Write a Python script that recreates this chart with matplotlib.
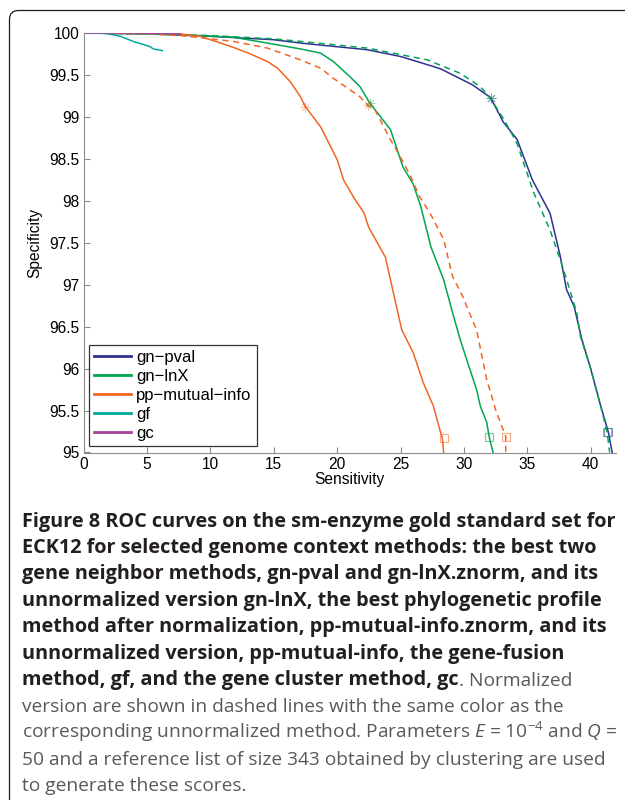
import matplotlib
matplotlib.use('Agg')
import matplotlib.pyplot as plt
from matplotlib.patches import FancyBboxPatch
from matplotlib.transforms import IdentityTransform

# ROC curves (x = sensitivity, y = specificity)
gn_pval_x = [0, 5, 10, 15, 17.1, 22.4, 25.0, 27.6, 28.2, 30.7, 32.1, 33.1, 34.2, 35.4, 36.8, 37.6, 38.1, 38.7, 39.3, 40.0, 40.8, 41.4, 41.7]
gn_pval_y = [100, 99.99, 99.96, 99.92, 99.88, 99.8, 99.72, 99.6, 99.57, 99.38, 99.23, 98.94, 98.73, 98.25, 97.85, 97.34, 96.94, 96.74, 96.35, 96.0, 95.55, 95.24, 95.0]

gn_znorm_x = [0, 5, 10, 15, 17.1, 22.4, 27.1, 29.7, 31.3, 32.1, 33.2, 34.2, 35.5, 36.8, 37.8, 38.9, 39.2, 40.0, 40.8, 41.3, 41.5]
gn_znorm_y = [100, 99.99, 99.97, 99.93, 99.9, 99.82, 99.68, 99.52, 99.36, 99.22, 98.96, 98.68, 98.1, 97.65, 97.21, 96.67, 96.38, 96.0, 95.55, 95.24, 95.0]

gn_lnx_x = [0, 5, 7.6, 11.8, 14.5, 17.1, 18.7, 19.7, 21.0, 21.8, 22.6, 24.2, 25.2, 26.0, 26.6, 27.4, 28.4, 29.1, 29.7, 30.3, 31.0, 31.3, 31.8, 32.0, 32.3]
gn_lnx_y = [100, 99.99, 99.98, 99.95, 99.88, 99.81, 99.76, 99.66, 99.48, 99.36, 99.16, 98.85, 98.4, 98.2, 97.93, 97.45, 97.06, 96.67, 96.35, 96.07, 95.75, 95.55, 95.36, 95.18, 95.0]

pp_mi_x = [0, 5, 7.6, 9.2, 11.6, 13.0, 14.5, 15.3, 16.3, 17.1, 17.5, 18.7, 20.0, 20.5, 21.3, 22.1, 22.5, 23.8, 24.5, 25.1, 26.0, 26.8, 27.6, 28.1, 28.3, 28.4]
pp_mi_y = [100, 100, 99.99, 99.96, 99.84, 99.76, 99.66, 99.58, 99.42, 99.24, 99.12, 98.88, 98.49, 98.25, 98.04, 97.86, 97.68, 97.33, 96.86, 96.46, 96.19, 95.83, 95.55, 95.27, 95.17, 95.0]

pp_znorm_x = [0, 5, 7.6, 11.8, 14.5, 17.1, 18.7, 19.7, 21.8, 22.4, 23.0, 24.2, 25.0, 25.8, 26.5, 27.3, 28.4, 29.1, 29.9, 31.0, 31.8, 32.5, 33.3, 33.3]
pp_znorm_y = [100, 99.99, 99.97, 99.9, 99.82, 99.68, 99.58, 99.46, 99.24, 99.14, 99.08, 98.73, 98.52, 98.29, 98.05, 97.86, 97.54, 97.1, 96.86, 96.46, 95.87, 95.51, 95.19, 95.0]

gf_x = [0, 1.8, 2.9, 3.9, 5.2, 5.5, 6.2]
gf_y = [100, 99.995, 99.96, 99.9, 99.84, 99.81, 99.79]

gc_x = [0, 3, 6, 7.6]
gc_y = [100, 100, 99.995, 99.99]

# asterisk / square marks on the curves
star_x = [17.5, 22.6, 22.4, 32.1, 32.1]
star_y = [99.12, 99.16, 99.14, 99.23, 99.22]
square_x = [28.4, 32.0, 33.3, 41.4, 41.3]
square_y = [95.17, 95.18, 95.19, 95.24, 95.24]

labels = ['gn\u2212pval', 'gn\u2212lnX', 'pp\u2212mutual\u2212info', 'gf', 'gc']
navy, green, orange, teal, purple = '#2e3192', '#00a651', '#f26522', '#00a99d', '#a3449c'
mark_colors = [orange, green, orange, navy, green]

xticks = [0, 5, 10, 15, 20, 25, 30, 35, 40]
yticks = [95, 95.5, 96, 96.5, 97, 97.5, 98, 98.5, 99, 99.5, 100]

caption_bold = [
    'Figure 8 ROC curves on the sm-enzyme gold standard set for',
    'ECK12 for selected genome context methods: the best two',
    'gene neighbor methods, gn-pval and gn-lnX.znorm, and its',
    'unnormalized version gn-lnX, the best phylogenetic profile',
    'method after normalization, pp-mutual-info.znorm, and its',
    'unnormalized version, pp-mutual-info, the gene-fusion',
    'method, gf, and the gene cluster method, gc',
]
caption_normal = [
    '. Normalized',
    'version are shown in dashed lines with the same color as the',
    r'corresponding unnormalized method. Parameters $E$ = 10$^{-4}$ and $Q$ =',
    '50 and a reference list of size 343 obtained by clustering are used',
    'to generate these scores.',
]

plt.rcParams['font.family'] = ['Liberation Sans', 'DejaVu Sans']
plt.rcParams['mathtext.fontset'] = 'custom'
plt.rcParams['mathtext.rm'] = 'Open Sans'
plt.rcParams['mathtext.it'] = 'Open Sans:italic'

fig = plt.figure(figsize=(6.25, 8), dpi=100)
ax = fig.add_axes([83.7 / 625, 347.5 / 800, 532.3 / 625, 419.5 / 800])

lw = 1.1
dash = (0, (4, 3))
ax.plot(gn_pval_x, gn_pval_y, color=navy, lw=lw, label=labels[0])
ax.plot(gn_znorm_x, gn_znorm_y, color=green, lw=lw, ls=dash)
ax.plot(gn_lnx_x, gn_lnx_y, color=green, lw=lw, label=labels[1])
ax.plot(pp_mi_x, pp_mi_y, color=orange, lw=lw, label=labels[2])
ax.plot(pp_znorm_x, pp_znorm_y, color=orange, lw=lw, ls=dash)
ax.plot(gf_x, gf_y, color=teal, lw=lw, label=labels[3])
ax.plot(gc_x, gc_y, color=purple, lw=lw, label=labels[4])

for i in range(len(star_x)):
    ax.plot(star_x[i], star_y[i], marker=(8, 2, 0), ms=7, mec=mark_colors[i], mew=0.6, alpha=0.4)
    ax.plot(square_x[i], square_y[i], marker='s', ms=6, mec=mark_colors[i], mfc='none', mew=0.8, alpha=0.55)

ax.set_xlim(0, 42)
ax.set_ylim(95, 100)
ax.set_xticks(xticks)
ax.set_yticks(yticks)
ax.set_yticklabels(['%g' % v for v in yticks])
for s in ['top', 'right']:
    ax.spines[s].set_visible(False)
for s in ['left', 'bottom']:
    ax.spines[s].set_color('#8c8c8c')
ax.tick_params(direction='in', length=4, color='#8c8c8c', labelsize=11.2)
ax.tick_params(axis='y', pad=3)
ax.tick_params(axis='x', pad=3.5)
ax.set_xlabel('Sensitivity', fontsize=11.2, labelpad=0)
ax.set_ylabel('Specificity', fontsize=11.2, labelpad=5)

leg = ax.legend(loc='lower left', bbox_to_anchor=(0.01, 0.0155), borderaxespad=0,
                fontsize=12, fancybox=False, handlelength=2.2, handletextpad=0.3,
                labelspacing=0.23, borderpad=0.32)
leg.get_frame().set_edgecolor('black')
leg.get_frame().set_linewidth(0.9)
for h in leg.get_lines():
    h.set_linewidth(2)

# outer frame with rounded top-left corner
frame = FancyBboxPatch((9.5, -30), 700, 789.5 + 30, boxstyle='round,pad=0,rounding_size=9',
                       transform=IdentityTransform(), fill=False, ec='#1a1a1a', lw=0.9)
fig.add_artist(frame)

# caption, sizes fitted so line widths match the page
cap_font = 'Open Sans'
x0 = 22 / 625
base = 526.5
step = 26.45
renderer = fig.canvas.get_renderer()


def fit_size(text, weight, target):
    t = fig.text(0, 0, text, fontsize=12, family=cap_font, fontweight=weight)
    w = t.get_window_extent(renderer).width
    t.remove()
    return 12 * target / w


bold_size = fit_size(caption_bold[0], 'bold', 593)
norm_size = fit_size(caption_normal[1], 'normal', 539)

for i, line in enumerate(caption_bold):
    t = fig.text(x0, 1 - (base + step * i) / 800, line, fontsize=bold_size, family=cap_font,
                 fontweight='bold', color='#231f20', va='baseline')
last_bold = t
ax.annotate(caption_normal[0], xy=(1, 0), xycoords=last_bold, va='bottom', ha='left',
            fontsize=norm_size, family=cap_font, color='#58595b', annotation_clip=False)
for j, line in enumerate(caption_normal[1:]):
    i = len(caption_bold) + j
    fig.text(x0, 1 - (base + step * i) / 800, line, fontsize=norm_size, family=cap_font,
             color='#58595b', va='baseline')

fig.savefig('out.png', dpi=100)
